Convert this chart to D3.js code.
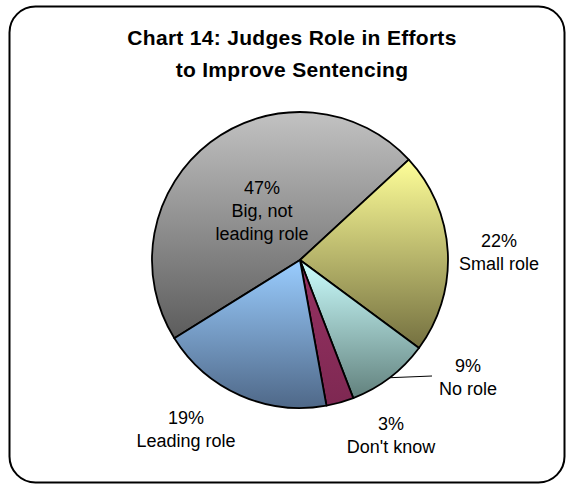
<!DOCTYPE html>
<html>
<head>
<meta charset="utf-8">
<script src="https://cdn.jsdelivr.net/npm/d3@7/dist/d3.min.js"></script>
<style>
  html, body { margin: 0; padding: 0; background: #ffffff; }
  svg { display: block; }
</style>
</head>
<body>
<svg id="chart" width="568" height="485"></svg>
<script>
// ---- data ----
const titleLines = ["Chart 14: Judges Role in Efforts", "to Improve Sentencing"];
const categories = ["Big, not leading role", "Small role", "No role", "Don't know", "Leading role"];
const values = [47, 22, 9, 3, 19];
const labelLines = [["47%", "Big, not", "leading role"], ["22%", "Small role"], ["9%", "No role"], ["3%", "Don't know"], ["19%", "Leading role"]];
const topColors = ["#c2c2c2", "#ffff99", "#ccffff", "#963262", "#9acdff"];
const bottomColors = ["#5c5c5c", "#747040", "#62817d", "#7e2852", "#4f6888"];

// ---- layout ----
const svg = d3.select("#chart");
const cx = 300, cy = 260, R = 148;

svg.append("rect")
  .attr("x", 9.5).attr("y", 6.5)
  .attr("width", 555).attr("height", 476)
  .attr("rx", 26).attr("ry", 26)
  .attr("fill", "#ffffff").attr("stroke", "#000").attr("stroke-width", 2);

svg.append("g").selectAll("text").data(titleLines).join("text")
  .attr("x", 292).attr("y", (d, i) => 45 + i * 32)
  .attr("text-anchor", "middle")
  .attr("font-family", "Liberation Sans, Arial, sans-serif")
  .attr("font-weight", "bold").attr("font-size", 21)
  .attr("letter-spacing", 0.3)
  .attr("fill", "#000")
  .text(d => d);

const defs = svg.append("defs");
categories.forEach((c, i) => {
  const g = defs.append("linearGradient").attr("id", "grad" + i)
    .attr("x1", 0).attr("y1", 0).attr("x2", 0).attr("y2", 1);
  g.append("stop").attr("offset", "0%").attr("stop-color", topColors[i]);
  g.append("stop").attr("offset", "100%").attr("stop-color", bottomColors[i]);
});

const startDeg = 47.3 - 360 * values[0] / 100;
const pie = d3.pie().sort(null).value(d => d)
  .startAngle(startDeg * Math.PI / 180)
  .endAngle(startDeg * Math.PI / 180 + 2 * Math.PI);
const arcs = pie(values);
const arc = d3.arc().innerRadius(0).outerRadius(R);

const gPie = svg.append("g").attr("transform", `translate(${cx},${cy})`);
gPie.selectAll("path").data(arcs).join("path")
  .attr("d", arc)
  .attr("fill", (d, i) => `url(#grad${i})`)
  .attr("stroke", "#000").attr("stroke-width", 1.8)
  .attr("stroke-linejoin", "round");

// label positions: centre of first line, relative to pie centre (px)
const labelPos = [[-38, -73], [199, -20], [168, 105], [91, 163], [-114, 157]];
const lineH = 23;
const gLab = svg.append("g");
arcs.forEach((a, i) => {
  const lines = labelLines[i];
  const t = gLab.append("text")
    .attr("text-anchor", "middle")
    .attr("font-family", "Liberation Sans, Arial, sans-serif")
    .attr("font-size", 18)
    .attr("fill", "#000");
  lines.forEach((l, j) => {
    t.append("tspan")
      .attr("x", cx + labelPos[i][0])
      .attr("y", cy + labelPos[i][1] + j * lineH + 6.5)
      .text(l);
  });
});

// leader line for "No role"
const noRole = arcs[2];
const mid = (noRole.startAngle + noRole.endAngle) / 2;
svg.append("line")
  .attr("x1", cx + Math.sin(mid) * R).attr("y1", cy - Math.cos(mid) * R)
  .attr("x2", 432).attr("y2", 376)
  .attr("stroke", "#000").attr("stroke-width", 1);
</script>
</body>
</html>
